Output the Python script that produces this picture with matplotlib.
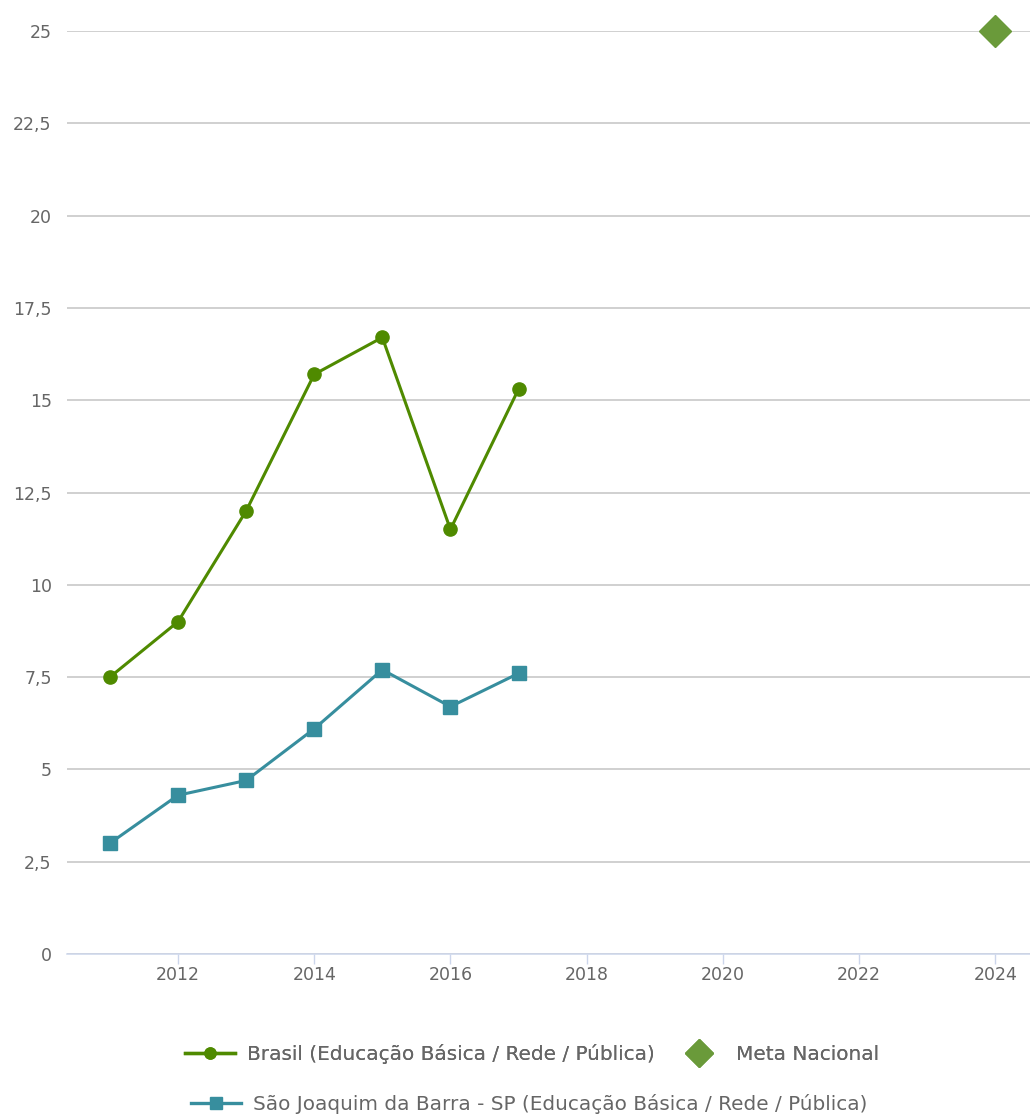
import matplotlib
matplotlib.use("Agg")
import matplotlib.pyplot as plt
from matplotlib.lines import Line2D
from matplotlib.ticker import FuncFormatter, MultipleLocator

plt.rcParams["font.family"] = ["DejaVu Sans"]

anos = [2011, 2012, 2013, 2014, 2015, 2016, 2017]
brasil = [7.5, 9.0, 12.0, 15.7, 16.7, 11.5, 15.3]
sao_joaquim = [3.0, 4.3, 4.7, 6.1, 7.7, 6.7, 7.6]
meta_ano = [2024]
meta_valor = [25]

nome_brasil = "Brasil (Educação Básica / Rede / Pública)"
nome_sj = "São Joaquim da Barra - SP (Educação Básica / Rede / Pública)"
nome_meta = "Meta Nacional"

verde = "#4f8a00"
azul = "#378e9e"
verde_meta = "#6a9a3a"
texto = "#666666"

fig = plt.figure(figsize=(10.3, 11.15), dpi=100)
ax = fig.add_axes([67 / 1030, 1 - 954 / 1115, 1 - 67 / 1030, (954 - 31) / 1115])

ax.plot(anos, brasil, color=verde, lw=2.2, marker="o", ms=9.5, zorder=3)
ax.plot(anos, sao_joaquim, color=azul, lw=2.2, marker="s", ms=9.5, zorder=3)
ax.plot(meta_ano, meta_valor, ls="none", marker="D", ms=16, color=verde_meta,
        clip_on=False, zorder=4)

ax.set_xlim(2010.37, 2024.51)
ax.set_ylim(0, 25)
ax.yaxis.set_major_locator(MultipleLocator(2.5))
ax.set_xticks([2012, 2014, 2016, 2018, 2020, 2022, 2024])
ax.yaxis.set_major_formatter(FuncFormatter(lambda v, p: f"{v:g}".replace(".", ",")))

ax.grid(axis="y", color="#c4c4c4", lw=1.1)
ax.set_axisbelow(True)
for s in ["top", "right", "left"]:
    ax.spines[s].set_visible(False)
ax.spines["bottom"].set_color("#ccd6eb")
ax.spines["bottom"].set_linewidth(1.1)

ax.tick_params(axis="y", length=0, pad=11, labelsize=12.5, labelcolor=texto)
ax.tick_params(axis="x", length=7, width=1, color="#ccd6eb", pad=2,
               labelsize=12.5, labelcolor=texto)

h_brasil = Line2D([], [], color=verde, lw=2.4, marker="o", ms=8)
h_meta = Line2D([], [], ls="none", color=verde_meta, marker="D", ms=14)
h_sj = Line2D([], [], color=azul, lw=2.4, marker="s", ms=8)

leg1 = fig.legend([h_brasil, h_meta], [nome_brasil, nome_meta], ncol=2,
                  loc="center", bbox_to_anchor=(532 / 1030, 1 - 1054 / 1115),
                  frameon=False, fontsize=14.4, labelcolor=texto,
                  handlelength=2.5, handletextpad=0.6, columnspacing=1.0,
                  borderpad=0, borderaxespad=0)
leg2 = fig.legend([h_sj], [nome_sj], loc="center",
                  bbox_to_anchor=(529 / 1030, 1 - 1104 / 1115),
                  frameon=False, fontsize=14.4, labelcolor=texto,
                  handlelength=2.5, handletextpad=0.6,
                  borderpad=0, borderaxespad=0)
fig.add_artist(leg1)

fig.savefig("out.png", dpi=100)
